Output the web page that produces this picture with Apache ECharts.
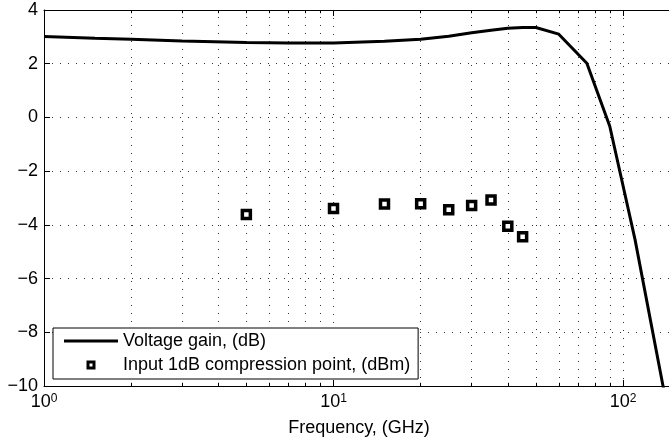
<!DOCTYPE html>
<html>
<head>
<meta charset="utf-8">
<script src="https://cdn.jsdelivr.net/npm/echarts@6/dist/echarts.min.js"></script>
<style>
  html, body { margin: 0; padding: 0; background: #fff; }
  #chart { width: 669px; height: 445px; }
</style>
</head>
<body>
<div id="chart"></div>
<script>
// voltage gain curve (GHz, dB)
const gainFreq = [1, 1.5, 2, 3, 5, 7, 10, 15, 20, 25, 30, 35, 40, 45, 50, 60, 75, 90, 110, 140];
const gainDb = [3.01, 2.95, 2.91, 2.85, 2.79, 2.77, 2.77, 2.84, 2.91, 3.02, 3.15, 3.25, 3.32, 3.35, 3.35, 3.10, 2.02, -0.33, -4.54, -10.45];

// input 1dB compression point (GHz, dBm)
const p1dbFreq = [5, 10, 15, 20, 25, 30, 35, 40, 45];
const p1dbDbm = [-3.61, -3.39, -3.22, -3.21, -3.44, -3.28, -3.07, -4.05, -4.44];

const yTicks = [-10, -8, -6, -4, -2, 0, 2, 4];
const minorFreq = [2, 3, 4, 5, 6, 7, 8, 9, 20, 30, 40, 50, 60, 70, 80, 90];

const font = "'Liberation Sans', Arial, Helvetica, sans-serif";
const fs = 18;
const dotted = { color: '#333', width: 1, type: [1, 7] };
const yMin = yTicks[0], yMax = yTicks[yTicks.length - 1];
const minorLen = 0.12;

let minorMarks = [];
minorFreq.forEach(f => {
    minorMarks.push({ xAxis: f, lineStyle: dotted });
    minorMarks.push([{ coord: [f, yMin], lineStyle: { color: '#000', width: 1, type: 'solid' } }, { coord: [f, yMin + minorLen] }]);
    minorMarks.push([{ coord: [f, yMax], lineStyle: { color: '#000', width: 1, type: 'solid' } }, { coord: [f, yMax - minorLen] }]);
});

let xLabel = v => {
    let e = Math.log10(v);
    if (Math.abs(e - Math.round(e)) > 1e-6) return '';
    return '{b|10}{s|' + Math.round(e) + '}';
};

const chart = echarts.init(document.getElementById('chart'), null, { renderer: 'canvas' });

chart.setOption({
    animation: false,
    backgroundColor: '#fff',
    textStyle: { fontFamily: font },
    grid: { left: 44, right: -5, top: 10, bottom: 59, outerBoundsMode: 'none', containLabel: false },
    legend: {
        orient: 'vertical',
        left: 53,
        top: 328,
        itemWidth: 54,
        itemHeight: 9,
        itemGap: 6,
        padding: [4, 8, 5, 11],
        backgroundColor: '#fff',
        borderColor: '#000',
        borderWidth: 1,
        borderRadius: 0,
        textStyle: { fontSize: fs, color: '#000', fontFamily: font },
        data: [
            { name: 'Voltage gain, (dB)', icon: 'path://M0,0 H54 V3 H0 Z', itemStyle: { color: '#000', borderWidth: 0 } },
            { name: 'Input 1dB compression point, (dBm)', icon: 'path://M0,0 H9 V9 H0 Z M3,3 V6 H6 V3 Z', itemStyle: { color: '#000', borderWidth: 0 } }
        ]
    },
    xAxis: [{
        type: 'log',
        logBase: 10,
        min: 1,
        max: 150,
        position: 'bottom',
        name: 'Frequency, (GHz)',
        nameLocation: 'middle',
        nameGap: 33,
        nameMoveOverlap: false,
        nameTextStyle: { fontSize: fs, color: '#000', fontFamily: font },
        axisLine: { onZero: false, lineStyle: { color: '#000', width: 1 } },
        axisTick: { inside: true, length: 6, lineStyle: { color: '#000' } },
        axisLabel: {
            margin: 7,
            color: '#000',
            formatter: xLabel,
            rich: {
                b: { fontSize: fs, lineHeight: 18, verticalAlign: 'bottom', fontFamily: font, color: '#000' },
                s: { fontSize: 12, lineHeight: 12, padding: [0, 0, 10, 0], verticalAlign: 'top', fontFamily: font, color: '#000' }
            }
        },
        splitLine: { show: true, lineStyle: dotted }
    }, {
        type: 'log',
        logBase: 10,
        min: 1,
        max: 150,
        position: 'top',
        axisLine: { onZero: false, lineStyle: { color: '#000', width: 1 } },
        axisTick: { inside: true, length: 6, lineStyle: { color: '#000' } },
        axisLabel: { show: false },
        splitLine: { show: false }
    }],
    yAxis: {
        type: 'value',
        min: yMin,
        max: yMax,
        interval: 2,
        axisLine: { show: true, onZero: false, lineStyle: { color: '#000', width: 1 } },
        axisTick: { show: true, inside: true, length: 6, lineStyle: { color: '#000' } },
        axisLabel: {
            margin: 6,
            fontSize: fs,
            color: '#000',
            fontFamily: font,
            formatter: v => String(v).replace('-', '\u2212')
        },
        splitLine: { show: true, lineStyle: dotted }
    },
    series: [{
        name: 'Voltage gain, (dB)',
        type: 'line',
        xAxisIndex: 0,
        data: gainFreq.map((f, i) => [f, gainDb[i]]),
        showSymbol: false,
        symbol: 'none',
        smooth: false,
        clip: true,
        color: '#000',
        lineStyle: { color: '#000', width: 3 },
        z: 3,
        markLine: {
            silent: true,
            symbol: 'none',
            label: { show: false },
            animation: false,
            data: minorMarks,
            z: 1
        }
    }, {
        name: 'Input 1dB compression point, (dBm)',
        type: 'scatter',
        xAxisIndex: 0,
        data: p1dbFreq.map((f, i) => [f, p1dbDbm[i]]),
        symbol: 'rect',
        symbolSize: 8,
        itemStyle: { color: '#fff', borderColor: '#000', borderWidth: 3.5, opacity: 1 },
        z: 4
    }]
});
</script>
</body>
</html>
